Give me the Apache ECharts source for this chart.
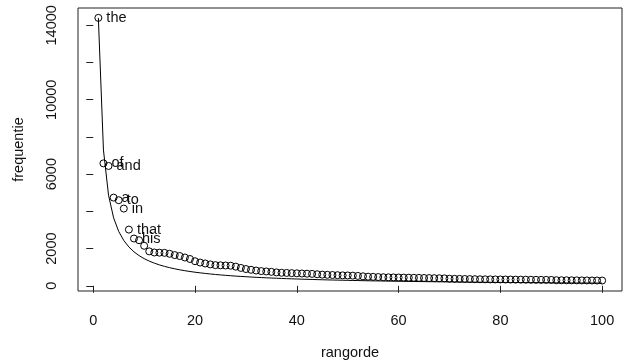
<!DOCTYPE html>
<html><head><meta charset="utf-8">
<script src="https://cdn.jsdelivr.net/npm/echarts@6/dist/echarts.min.js"></script>
<style>html,body{margin:0;padding:0;background:#fff}#c{width:632px;height:362px}</style>
</head><body><div id="c"></div>
<script>
const ranks = [1,2,3,4,5,6,7,8,9,10,11,12,13,14,15,16,17,18,19,20,
21,22,23,24,25,26,27,28,29,30,31,32,33,34,35,36,37,38,39,40,
41,42,43,44,45,46,47,48,49,50,51,52,53,54,55,56,57,58,59,60,
61,62,63,64,65,66,67,68,69,70,71,72,73,74,75,76,77,78,79,80,
81,82,83,84,85,86,87,88,89,90,91,92,93,94,95,96,97,98,99,100];
const frequencies = [14400,6580,6440,4740,4600,4150,3020,2540,2450,2150,
1850,1790,1780,1770,1720,1650,1600,1520,1440,1320,
1250,1200,1150,1110,1100,1090,1080,1030,960,900,
860,820,790,770,750,720,700,690,680,670,
660,650,640,620,600,590,580,570,560,555,
545,530,510,490,480,470,460,455,450,445,
440,435,430,425,420,415,410,405,400,380,
375,370,365,360,355,350,348,345,342,340,
338,335,332,330,328,325,322,320,318,315,
300,298,296,294,292,290,288,286,284,282];
const zipfCurve = [14400,7300,4867,3650,2920,2433,2086,1825,1622,1460,
1327,1217,1123,1043,973,913,859,811,768,730,
695,664,635,608,584,562,541,521,503,487,
471,456,442,429,417,406,395,384,374,365,
356,348,340,332,324,317,311,304,298,292,
286,281,275,270,265,261,256,252,247,243,
239,235,232,228,225,221,218,215,212,209,
206,203,200,197,195,192,190,187,185,183,
180,178,176,174,172,170,168,166,164,162,
160,159,157,155,154,152,151,149,147,146];
const words = ["the","of","and","a","to","in","that","his"];
const xTicks = [0,20,40,60,80,100];
const yTicks = [0,2000,4000,6000,8000,10000,12000,14000];
const yTickLabels = [0,2000,6000,10000,14000];

const FONT = '"Liberation Sans", Arial, sans-serif';
const FS = 14.5;
const chart = echarts.init(document.getElementById('c'), null, {renderer:'canvas'});
const pts = ranks.map((r,i)=>[r, frequencies[i]]);
const curve = ranks.map((r,i)=>[r, zipfCurve[i]]);
chart.setOption({
  animation:false,
  backgroundColor:'#fff',
  grid:{left:78, right:10, top:8, bottom:71, containLabel:false, outerBoundsMode:'none',
    show:true, borderColor:'#222', borderWidth:1, backgroundColor:'transparent'},
  xAxis:{type:'value', min:-3, max:103.9,
    name:'rangorde', nameLocation:'middle', nameGap:54,
    nameTextStyle:{fontFamily:FONT, fontSize:FS, color:'#111'},
    axisLine:{show:false}, splitLine:{show:false},
    axisTick:{show:true, length:7, inside:false, customValues:xTicks, lineStyle:{color:'#222'}},
    axisLabel:{customValues:xTicks, margin:22, fontFamily:FONT, fontSize:FS, color:'#111', formatter:(v)=>String(v)}
  },
  yAxis:{type:'value', min:-280, max:14930,
    name:'frequentie', nameLocation:'middle', nameGap:52,
    nameTextStyle:{fontFamily:FONT, fontSize:FS, color:'#111'},
    axisLine:{show:false}, splitLine:{show:false},
    axisTick:{show:true, length:7, inside:false, customValues:yTicks, lineStyle:{color:'#222'}},
    axisLabel:{customValues:yTickLabels, rotate:90, margin:19, fontFamily:FONT, fontSize:FS, color:'#111', formatter:(v)=>String(v)}
  },
  series:[
    {type:'line', data:curve, showSymbol:false, symbol:'none', lineStyle:{color:'#000', width:1}, z:2, silent:true},
    {type:'scatter', data:pts, symbol:'circle', symbolSize:7, z:3,
      itemStyle:{color:'transparent', borderColor:'#000', borderWidth:1, opacity:1},
      label:{show:true, position:'right', distance:4, fontFamily:FONT, fontSize:FS, color:'#111',
        formatter:(p)=> p.dataIndex < words.length ? words[p.dataIndex] : ''},
      labelLayout:{hideOverlap:false}
    }
  ]
});
</script></body></html>
